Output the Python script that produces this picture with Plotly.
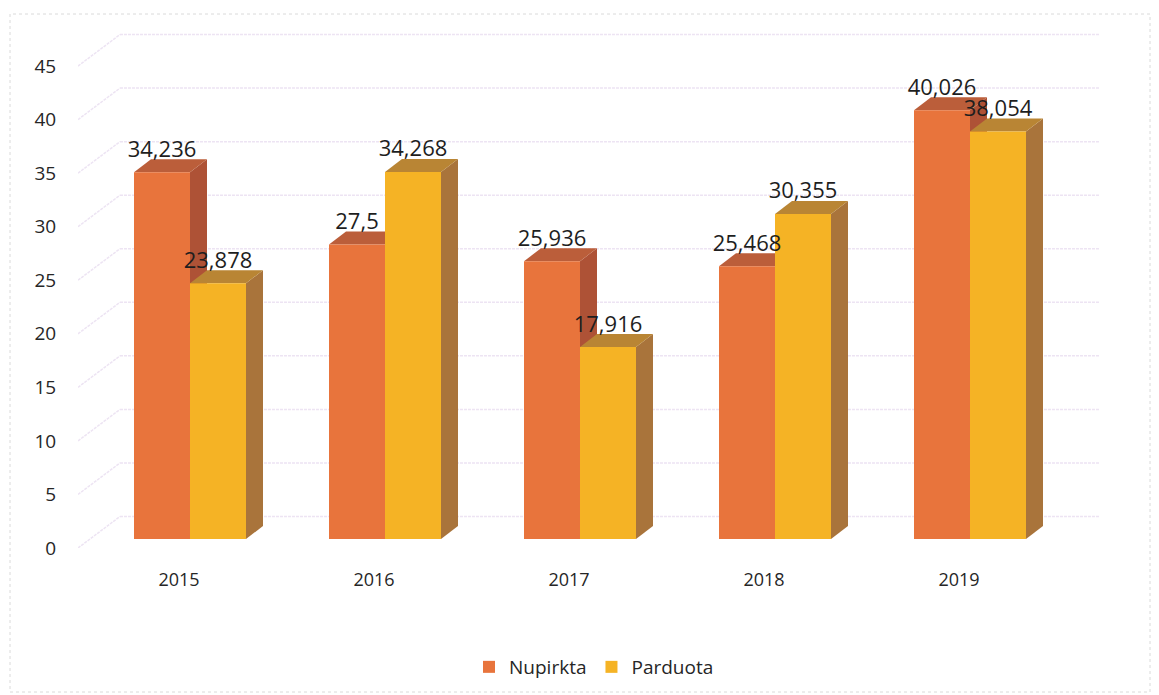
import plotly.graph_objects as go

years = [2015, 2016, 2017, 2018, 2019]
nupirkta = [34.236, 27.5, 25.936, 25.468, 40.026]
parduota = [23.878, 34.268, 17.916, 30.355, 38.054]
nupirkta_labels = ["34,236", "27,5", "25,936", "25,468", "40,026"]
parduota_labels = ["23,878", "34,268", "17,916", "30,355", "38,054"]
y_ticks = [0, 5, 10, 15, 20, 25, 30, 35, 40, 45]

FONT = "Open Sans"
C_N = dict(front="#E8743C", top="#BB5E3A", side="#AE5236")
C_P = dict(front="#F5B325", top="#B98534", side="#A9743B")

# one value unit = 10.71 px, one year = 195 px on the axes set below
PXX, PXY = 195.0, 10.71
BAR_W = 56 / PXX
BAR_SHIFT = 11 / PXX      # bars sit right of the tick centre
BASE = 9 / PXY            # bar foot above the axis plane
DX, DY = 17 / PXX, 13 / PXY      # bar depth
WX, WY = 42 / PXX, 31.5 / PXY    # wall depth
X0 = 2015 + (78 - 179) / PXX
X1 = 2015 + (1100 - 179) / PXX
Y1 = (548 - 20) / PXY

shapes = []
for t in y_ticks:
    grid = dict(color="#EDE4F3", width=1.5, dash="3px,1px")
    shapes.append(dict(type="line", xref="x", yref="y", x0=X0, y0=t, x1=X0 + WX, y1=t + WY,
                       line=grid, layer="below"))
    shapes.append(dict(type="line", xref="x", yref="y", x0=X0 + WX, y0=t + WY, x1=X1, y1=t + WY,
                       line=grid, layer="below"))


def poly(points, color):
    path = "M " + " L ".join(f"{a},{b}" for a, b in points) + " Z"
    return dict(type="path", xref="x", yref="y", path=path, fillcolor=color,
                line=dict(width=0), layer="below")


def faces(left, value, colors):
    right = left + BAR_W
    top = BASE + value
    shapes.append(poly([(right, BASE), (right + DX, BASE + DY), (right + DX, top + DY), (right, top)], colors["side"]))
    shapes.append(poly([(left, top), (left + DX, top + DY), (right + DX, top + DY), (right, top)], colors["top"]))


for yr, n, p in zip(years, nupirkta, parduota):
    faces(yr + BAR_SHIFT - BAR_W, n, C_N)
    faces(yr + BAR_SHIFT, p, C_P)

# dotted chart frame
shapes.append(dict(type="rect", xref="paper", yref="paper",
                   x0=(10 - 78) / 1022, x1=(1150 - 78) / 1022,
                   y0=(548 - 692) / 528, y1=(548 - 14) / 528,
                   line=dict(color="#DADADA", width=1, dash="dot"), layer="below"))

fig = go.Figure()
fig.add_bar(name="Nupirkta", x=years, y=nupirkta, base=BASE, width=BAR_W, offset=BAR_SHIFT - BAR_W,
            marker=dict(color=C_N["front"], line=dict(width=0)), hoverinfo="x+y")
fig.add_bar(name="Parduota", x=years, y=parduota, base=BASE, width=BAR_W, offset=BAR_SHIFT,
            marker=dict(color=C_P["front"], line=dict(width=0)), hoverinfo="x+y")

LABEL_UP = 21 / PXY
fig.add_scatter(x=[y + BAR_SHIFT - BAR_W / 2 for y in years],
                y=[BASE + v + LABEL_UP for v in nupirkta],
                text=nupirkta_labels, mode="text", textposition="middle center",
                textfont=dict(family=FONT, size=22, color="#1E1E1E"),
                showlegend=False, hoverinfo="skip")
fig.add_scatter(x=[y + BAR_SHIFT + BAR_W / 2 for y in years],
                y=[BASE + v + LABEL_UP for v in parduota],
                text=parduota_labels, mode="text", textposition="middle center",
                textfont=dict(family=FONT, size=22, color="#1E1E1E"),
                showlegend=False, hoverinfo="skip")

fig.update_layout(
    width=1159, height=695,
    margin=dict(l=78, r=59, t=20, b=147, autoexpand=False),
    paper_bgcolor="white", plot_bgcolor="white",
    barmode="overlay",
    shapes=shapes,
    font=dict(family=FONT, color="#262626"),
    legend=dict(orientation="h", x=(594 - 78) / 1022, xanchor="center",
                y=(548 - 667) / 528, yanchor="middle",
                font=dict(family=FONT, size=19, color="#262626"),
                bgcolor="rgba(0,0,0,0)", itemwidth=30, traceorder="normal"),
    xaxis=dict(range=[X0, X1], tickvals=years, ticktext=[str(y) for y in years],
               ticks="outside", ticklen=15, tickcolor="rgba(0,0,0,0)",
               showgrid=False, zeroline=False, showline=False,
               tickfont=dict(family=FONT, size=18, color="#262626")),
    yaxis=dict(range=[0, Y1], tickvals=y_ticks,
               ticks="outside", ticklen=17, tickcolor="rgba(0,0,0,0)",
               showgrid=False, zeroline=False, showline=False,
               tickfont=dict(family=FONT, size=19, color="#262626")),
)

fig.write_html("out.html", config=dict(displayModeBar=False),
               post_script="document.body.style.margin='0';document.body.style.overflow='hidden';")
